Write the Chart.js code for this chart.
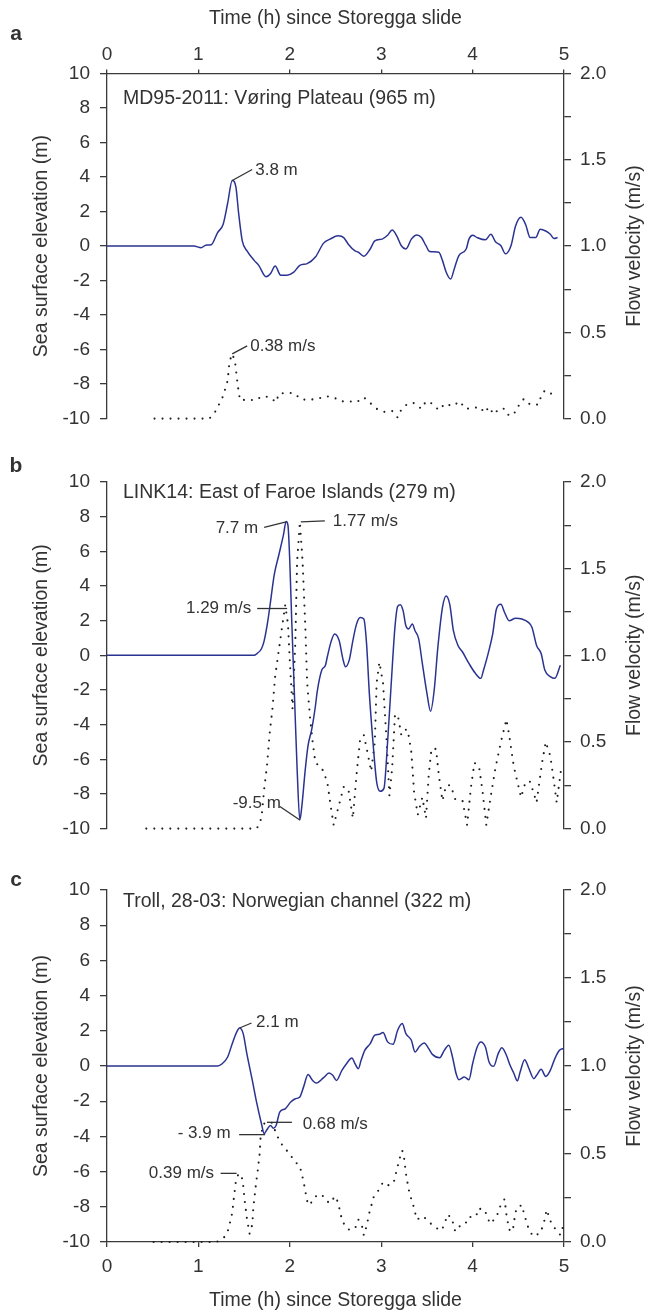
<!DOCTYPE html>
<html><head><meta charset="utf-8">
<script src="https://cdn.jsdelivr.net/npm/chart.js@4.4.0/dist/chart.umd.min.js"></script>
<style>
html,body{margin:0;padding:0;background:#fff;}
body{width:649px;height:1314px;position:relative;overflow:hidden;}
canvas{position:absolute;left:0;}
</style></head><body>
<canvas id="ca" width="649" height="440" style="top:0px"></canvas>
<canvas id="cb" width="649" height="400" style="top:450px"></canvas>
<canvas id="cc" width="649" height="454" style="top:860px"></canvas>
<script>
// ---------- DATA (time in hours, elevation in m, velocity in m/s) ----------
const xTicks = [0, 1, 2, 3, 4, 5];
const panelTitles = ['MD95-2011: Vøring Plateau (965 m)', 'LINK14: East of Faroe Islands (279 m)', 'Troll, 28-03: Norwegian channel (322 m)'];
const panelLetters = ['a', 'b', 'c'];

const elevA = [[0,0],[0.95,0],[1.03,-0.1],[1.08,0.05],[1.14,0.08],[1.21,0.78],[1.27,1.25],[1.32,2.48],[1.37,3.8],[1.41,3.43],[1.44,1.91],[1.48,0.3],[1.53,-0.27],[1.61,-0.83],[1.66,-1.12],[1.74,-1.78],[1.79,-1.59],[1.84,-1.16],[1.90,-1.69],[1.97,-1.69],[2.04,-1.53],[2.11,-1.12],[2.19,-1.02],[2.28,-0.64],[2.37,0.17],[2.44,0.4],[2.53,0.59],[2.59,0.49],[2.64,0.11],[2.71,-0.27],[2.75,-0.36],[2.81,-0.59],[2.88,-0.17],[2.93,0.3],[3.01,0.4],[3.07,0.63],[3.12,0.93],[3.17,0.59],[3.22,0.02],[3.27,-0.17],[3.33,0.4],[3.39,0.64],[3.44,0.49],[3.49,0.02],[3.53,-0.32],[3.63,-0.36],[3.67,-0.83],[3.71,-1.5],[3.76,-1.91],[3.80,-1.31],[3.85,-0.55],[3.93,-0.17],[3.96,0.4],[4.0,0.63],[4.05,0.49],[4.14,0.36],[4.2,0.68],[4.25,0.25],[4.31,0.02],[4.36,-0.45],[4.42,0.02],[4.47,1.16],[4.53,1.67],[4.58,1.25],[4.63,0.49],[4.69,0.49],[4.74,0.97],[4.80,0.87],[4.85,0.68],[4.89,0.44],[4.93,0.49]];
const velA = [[0.52,0],[1.12,0],[1.19,0.044],[1.27,0.13],[1.32,0.22],[1.34,0.33],[1.37,0.375],[1.40,0.333],[1.43,0.195],[1.455,0.106],[1.53,0.11],[1.62,0.106],[1.70,0.13],[1.78,0.125],[1.85,0.095],[1.88,0.144],[1.96,0.15],[2.04,0.148],[2.13,0.11],[2.22,0.11],[2.30,0.114],[2.39,0.13],[2.48,0.123],[2.56,0.1],[2.65,0.1],[2.73,0.095],[2.81,0.123],[2.88,0.09],[2.95,0.057],[3.04,0.038],[3.12,0.044],[3.18,0.006],[3.22,0.053],[3.29,0.087],[3.36,0.09],[3.44,0.057],[3.49,0.1],[3.56,0.087],[3.63,0.049],[3.70,0.087],[3.78,0.072],[3.86,0.1],[3.92,0.057],[3.99,0.059],[4.08,0.068],[4.13,0.034],[4.18,0.068],[4.23,0.025],[4.29,0.057],[4.35,0.057],[4.40,0.015],[4.47,0.038],[4.51,0.081],[4.56,0.114],[4.63,0.081],[4.72,0.081],[4.75,0.13],[4.79,0.163],[4.85,0.148],[4.92,0.119]];

const elevB = [[0,0],[1.61,0],[1.64,0.1],[1.69,0.38],[1.72,0.85],[1.76,2.0],[1.79,3.13],[1.83,4.65],[1.88,5.79],[1.93,6.93],[1.96,7.72],[1.98,7.5],[2.0,5.4],[2.02,2.18],[2.05,-2.18],[2.08,-6.55],[2.11,-9.5],[2.13,-8.8],[2.17,-6.55],[2.20,-5.2],[2.24,-4.27],[2.28,-2.94],[2.30,-2.09],[2.35,-0.85],[2.39,-0.57],[2.41,-0.1],[2.45,0.76],[2.49,1.23],[2.54,0.85],[2.58,-0.19],[2.61,-0.66],[2.65,-0.28],[2.69,0.85],[2.73,1.8],[2.77,2.18],[2.81,2.09],[2.84,0.66],[2.87,-2.18],[2.91,-5.0],[2.95,-7.3],[2.99,-7.85],[3.03,-7.68],[3.07,-5.0],[3.11,-1.6],[3.15,1.6],[3.18,2.83],[3.21,2.92],[3.24,2.56],[3.27,1.7],[3.30,1.52],[3.34,1.8],[3.37,1.42],[3.41,0.95],[3.45,-0.47],[3.50,-2.18],[3.54,-3.23],[3.58,-2.0],[3.62,0.47],[3.67,2.75],[3.71,3.42],[3.75,2.94],[3.79,1.42],[3.84,0.57],[3.89,0.19],[3.96,-0.47],[4.03,-1.04],[4.09,-1.33],[4.12,-0.85],[4.17,0.1],[4.22,1.23],[4.26,2.66],[4.31,2.94],[4.35,2.47],[4.40,1.99],[4.47,2.14],[4.54,2.09],[4.61,1.9],[4.65,1.61],[4.70,0.57],[4.75,0.1],[4.79,-0.85],[4.85,-1.23],[4.90,-1.33],[4.96,-0.57]];
const velB = [[0.43,0],[1.64,0],[1.69,0.06],[1.72,0.23],[1.75,0.36],[1.78,0.55],[1.81,0.69],[1.84,0.88],[1.88,1.03],[1.92,1.18],[1.95,1.29],[1.98,1.18],[2.00,0.97],[2.03,0.69],[2.06,1.07],[2.08,1.54],[2.11,1.77],[2.14,1.54],[2.17,1.16],[2.19,0.84],[2.22,0.65],[2.25,0.50],[2.28,0.38],[2.35,0.35],[2.41,0.27],[2.45,0.12],[2.48,0.02],[2.53,0.12],[2.59,0.24],[2.64,0.23],[2.69,0.06],[2.73,0.31],[2.77,0.52],[2.81,0.54],[2.85,0.44],[2.89,0.33],[2.93,0.5],[2.95,0.84],[2.98,0.96],[3.02,0.84],[3.06,0.5],[3.09,0.19],[3.12,0.35],[3.15,0.65],[3.18,0.66],[3.22,0.54],[3.26,0.57],[3.29,0.57],[3.33,0.44],[3.36,0.21],[3.40,0.08],[3.45,0.18],[3.49,0.06],[3.52,0.31],[3.55,0.46],[3.60,0.46],[3.63,0.31],[3.67,0.16],[3.71,0.25],[3.76,0.25],[3.81,0.17],[3.89,0.16],[3.94,0.02],[3.98,0.23],[4.02,0.38],[4.07,0.36],[4.11,0.21],[4.15,0.02],[4.20,0.19],[4.25,0.35],[4.31,0.50],[4.37,0.63],[4.40,0.54],[4.45,0.36],[4.49,0.27],[4.53,0.18],[4.58,0.27],[4.63,0.27],[4.70,0.15],[4.76,0.38],[4.80,0.5],[4.85,0.42],[4.89,0.27],[4.92,0.15],[4.97,0.35]];

const elevC = [[0,0],[1.21,0],[1.26,0.13],[1.32,0.51],[1.37,1.27],[1.42,1.94],[1.45,2.16],[1.49,1.84],[1.53,0.7],[1.59,-0.82],[1.64,-2.14],[1.69,-3.28],[1.72,-3.85],[1.74,-3.7],[1.79,-3.38],[1.82,-3.53],[1.85,-3.38],[1.89,-2.62],[1.95,-2.43],[2.01,-2.05],[2.06,-1.86],[2.11,-1.76],[2.15,-1.2],[2.20,-0.49],[2.25,-0.82],[2.29,-0.97],[2.37,-0.66],[2.43,-0.4],[2.47,-0.53],[2.51,-0.82],[2.57,-0.25],[2.62,0.13],[2.68,0.46],[2.71,0.17],[2.75,-0.15],[2.78,0.32],[2.82,0.89],[2.88,1.27],[2.93,1.75],[2.98,1.8],[3.02,1.9],[3.07,1.37],[3.13,1.23],[3.18,2.03],[3.23,2.41],[3.27,1.84],[3.33,1.46],[3.37,0.8],[3.42,1.12],[3.47,1.31],[3.52,0.99],[3.56,0.66],[3.64,0.47],[3.69,0.89],[3.74,1.18],[3.78,0.51],[3.82,-0.44],[3.85,-0.78],[3.91,-0.63],[3.96,-0.78],[4.0,0.13],[4.05,1.08],[4.09,1.37],[4.14,1.08],[4.18,0.23],[4.23,-0.02],[4.28,0.7],[4.32,1.04],[4.37,0.61],[4.41,0.04],[4.45,-0.4],[4.49,-0.85],[4.52,-0.34],[4.57,0.36],[4.61,-0.06],[4.67,-0.72],[4.70,-0.53],[4.75,-0.19],[4.80,-0.59],[4.85,-0.25],[4.90,0.42],[4.95,0.89],[5.0,1.0]];
const velC = [[0.51,0],[1.20,0],[1.29,0.03],[1.33,0.074],[1.37,0.165],[1.39,0.26],[1.41,0.345],[1.44,0.39],[1.48,0.36],[1.49,0.32],[1.51,0.22],[1.53,0.136],[1.56,0.047],[1.59,0.1],[1.60,0.19],[1.63,0.33],[1.65,0.41],[1.67,0.5],[1.68,0.59],[1.71,0.67],[1.75,0.68],[1.80,0.68],[1.85,0.62],[1.89,0.57],[1.95,0.53],[2.0,0.5],[2.05,0.46],[2.11,0.43],[2.15,0.345],[2.18,0.26],[2.20,0.21],[2.25,0.23],[2.30,0.27],[2.37,0.26],[2.43,0.22],[2.50,0.26],[2.53,0.22],[2.57,0.127],[2.61,0.085],[2.66,0.066],[2.72,0.085],[2.75,0.127],[2.79,0.09],[2.81,0.038],[2.84,0.09],[2.87,0.165],[2.92,0.26],[2.98,0.3],[3.02,0.34],[3.09,0.32],[3.14,0.345],[3.18,0.43],[3.21,0.49],[3.23,0.52],[3.25,0.48],[3.27,0.39],[3.30,0.3],[3.32,0.26],[3.35,0.21],[3.39,0.127],[3.46,0.146],[3.53,0.11],[3.60,0.08],[3.66,0.066],[3.70,0.11],[3.72,0.155],[3.77,0.14],[3.81,0.06],[3.86,0.09],[3.92,0.1],[3.95,0.14],[4.04,0.146],[4.06,0.19],[4.13,0.184],[4.19,0.104],[4.26,0.14],[4.30,0.2],[4.35,0.244],[4.37,0.155],[4.40,0.07],[4.44,0.06],[4.45,0.108],[4.48,0.193],[4.54,0.21],[4.56,0.165],[4.61,0.08],[4.66,0.032],[4.74,0.05],[4.78,0.108],[4.81,0.184],[4.86,0.108],[4.91,0.07],[4.96,0.04],[4.99,0.09]];

// annotation values (time, value, axis, label)
const notesA = [[1.37, 3.8, 'y', '3.8 m'], [1.37, 0.375, 'y2', '0.38 m/s']];
const notesB = [[1.96, 7.7, 'y', '7.7 m'], [2.11, 1.77, 'y2', '1.77 m/s'], [1.96, 1.27, 'y2', '1.29 m/s'], [2.11, -9.5, 'y', '-9.5 m']];
const notesC = [[1.45, 2.16, 'y', '2.1 m'], [1.73, -3.9, 'y', '- 3.9 m'], [1.75, 0.68, 'y2', '0.68 m/s'], [1.44, 0.39, 'y2', '0.39 m/s']];

// ---------- STYLE / LAYOUT ----------
const FONT = '"Liberation Sans", Arial, Helvetica, sans-serif';
const TXT = '#333333';
const AX = '#3a3a3a';
const BLUE = '#2b3391';
// leader line [x1,y1,x2,y2] and text offset [dx,dy,align] relative to anchor, per note
const noteStyleA = [{l:[0,0,20,-11], t:[23,-10,'left']}, {l:[0,0,15,-8], t:[18,-7.5,'left']}];
const noteStyleB = [{l:[-22,5.5,0,0], t:[-28,6.5,'right']}, {l:[1,0,25,-1], t:[33,-1,'right0']}, {l:[-29,0,1,0], t:[-35,0,'right']}, {l:[0,0,-20,-13.5], t:[-19,-17,'right']}];
const noteStyleC = [{l:[0,0,12,-5], t:[16.5,-6,'left']}, {l:[-26,0,0,0], t:[-34.5,-1.5,'right']}, {l:[0,0,25,0], t:[35.7,1.5,'left']}, {l:[-18,0,-2,0], t:[-24.6,-0.5,'right']}];

const toXY = arr => arr.map(p => ({x: p[0], y: p[1]}));

function decorPlugin(cfg) {
  return {
    id: 'decor' + cfg.letter,
    afterDraw(chart) {
      const ctx = chart.ctx, a = chart.chartArea;
      ctx.save();
      ctx.fillStyle = TXT;
      ctx.textBaseline = 'middle';
      ctx.font = '19.5px ' + FONT;
      ctx.textAlign = 'center';
      const cy = (a.top + a.bottom) / 2;
      [[42, 'Sea surface elevation (m)'], [635, 'Flow velocity (m/s)']].forEach(([x, t]) => {
        ctx.save(); ctx.translate(x, cy); ctx.rotate(-Math.PI / 2); ctx.fillText(t, 0, 0); ctx.restore();
      });
      ctx.textAlign = 'left';
      ctx.fillText(cfg.title, a.left + 16, a.top + cfg.titleDy);
      ctx.font = 'bold 21px ' + FONT;
      ctx.textAlign = 'center';
      ctx.fillText(cfg.letter, 16, cfg.letterY);
      ctx.font = '17px ' + FONT;
      ctx.strokeStyle = '#333';
      ctx.lineWidth = 1.3;
      cfg.notes.forEach((n, i) => {
        const st = cfg.styles[i];
        const px = chart.scales.x.getPixelForValue(n[0]);
        const py = chart.scales[n[2]].getPixelForValue(n[1]);
        ctx.beginPath();
        ctx.moveTo(px + st.l[0], py + st.l[1]);
        ctx.lineTo(px + st.l[2], py + st.l[3]);
        ctx.stroke();
        ctx.textAlign = st.t[2] === 'right' ? 'right' : 'left';
        ctx.fillText(n[3], px + st.t[0], py + st.t[1]);
      });
      ctx.restore();
    }
  };
}

function makeChart(id, elev, vel, cfg) {
  const tickFont = {family: FONT, size: 19};
  new Chart(document.getElementById(id), {
    type: 'line',
    data: {
      datasets: [
        {data: toXY(elev), yAxisID: 'y', borderColor: BLUE, borderWidth: 1.5, pointRadius: 0, cubicInterpolationMode: 'monotone', fill: false},
        {data: toXY(vel), yAxisID: 'y2', borderColor: '#1e1e1e', borderWidth: 2.1, borderDash: [0, 8], borderCapStyle: 'round', pointRadius: 0, tension: 0, fill: false, clip: 5}
      ]
    },
    options: {
      responsive: false,
      animation: false,
      devicePixelRatio: 1,
      layout: {padding: cfg.padding},
      plugins: {legend: {display: false}, tooltip: {enabled: false}},
      scales: {
        x: {
          type: 'linear', min: 0, max: 5,
          position: cfg.xPos, display: cfg.xPos !== 'none',
          afterBuildTicks: s => { s.ticks = xTicks.map(v => ({value: v})); },
          ticks: {color: TXT, font: tickFont, padding: cfg.xPos === 'top' ? 3 : 8, maxRotation: 0, autoSkip: false},
          grid: {drawOnChartArea: false, drawTicks: true, tickLength: cfg.xPos === 'top' ? 4 : 5, color: AX, lineWidth: 1.3},
          border: {display: true, color: AX, width: 1.3},
          title: {display: true, text: 'Time (h) since Storegga slide', color: TXT, font: {family: FONT, size: 19.5}, padding: cfg.xPos === 'top' ? {top: 7, bottom: 0} : {top: 0, bottom: 2}},
          afterFit: s => { s.height = cfg.xHeight; }
        },
        y: {
          position: 'left', min: -10, max: 10,
          ticks: {stepSize: 2, color: TXT, font: tickFont, padding: 10, autoSkip: false},
          grid: {drawOnChartArea: false, drawTicks: true, tickLength: 7, color: AX, lineWidth: 1.3},
          border: {display: true, color: AX, width: 1.3},
          afterFit: s => { s.width = 107; }
        },
        y2: {
          position: 'right', min: 0, max: 2,
          ticks: {stepSize: 0.25, color: TXT, font: tickFont, padding: 9, autoSkip: false,
            callback: v => (Math.abs(v * 2 - Math.round(v * 2)) < 1e-6 ? Number(v).toFixed(1) : '')},
          grid: {drawOnChartArea: false, drawTicks: true, tickLength: 7, color: AX, lineWidth: 1.3},
          border: {display: true, color: AX, width: 1.3},
          afterFit: s => { s.width = 85; }
        }
      }
    },
    plugins: [decorPlugin(cfg)]
  });
}

makeChart('ca', elevA, velA, {letter: panelLetters[0], title: panelTitles[0], titleDy: 25, letterY: 34, xPos: 'top', xHeight: 73.5, padding: {top: 0, bottom: 14, left: 0, right: 0}, notes: notesA, styles: noteStyleA});
makeChart('cb', elevB, velB, {letter: panelLetters[1], title: panelTitles[1], titleDy: 11, letterY: 16, xPos: 'none', xHeight: 0, padding: {top: 32, bottom: 16, left: 0, right: 0}, notes: notesB, styles: noteStyleB});
makeChart('cc', elevC, velC, {letter: panelLetters[2], title: panelTitles[2], titleDy: 12, letterY: 20, xPos: 'bottom', xHeight: 72, padding: {top: 30, bottom: 0, left: 0, right: 0}, notes: notesC, styles: noteStyleC});
</script>
</body></html>
